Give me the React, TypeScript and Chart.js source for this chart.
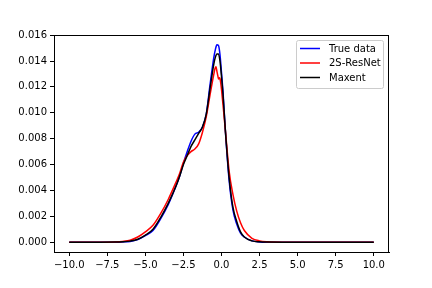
import React, { useEffect, useRef } from "react";
import { Chart, registerables } from "chart.js";

Chart.register(...registerables);

const seriesLabels = ["True data", "2S-ResNet", "Maxent"];
const seriesColors = ["#0000ff", "#ff0000", "#000000"];

const gridX = [-10, -8, -7, -6.5, -6, -5.5, -5, -4.5, -4, -3.5, -3, -2.75, -2.5, -2.25, -2, -1.75, -1.5, -1.25, -1, -0.75, -0.5, -0.4, -0.3, -0.2, -0.1, 0, 0.1, 0.25, 0.5, 0.75, 1, 1.25, 1.5, 2, 2.5, 3, 4, 6, 8, 10];

const trueY = [0, 0, 0, 0.00002, 0.00006, 0.0002, 0.0005, 0.0009, 0.0018, 0.0029, 0.0043, 0.0051, 0.0061, 0.007, 0.0078, 0.00835, 0.0085, 0.0089, 0.0099, 0.0122, 0.0143, 0.0149, 0.01525, 0.0152, 0.0145, 0.0131, 0.0116, 0.0087, 0.0048, 0.0025, 0.0014, 0.0007, 0.0004, 0.0001, 0.00002, 0, 0, 0, 0, 0];

const maxentY = [0, 0, 0.00001, 0.00003, 0.00008, 0.00022, 0.00055, 0.001, 0.0019, 0.003, 0.0043, 0.0051, 0.006, 0.0067, 0.0074, 0.0079, 0.0084, 0.0089, 0.0099, 0.0119, 0.0138, 0.0143, 0.01455, 0.01455, 0.014, 0.0128, 0.0114, 0.0087, 0.005, 0.0027, 0.0016, 0.0008, 0.0004, 0.0001, 0.00003, 0.00001, 0, 0, 0, 0];

const resnetX = [-10, -8, -7, -6.5, -6, -5.5, -5, -4.5, -4, -3.5, -3, -2.75, -2.5, -2.25, -2, -1.75, -1.5, -1.25, -1, -0.75, -0.5, -0.42, -0.36, -0.3, -0.24, -0.19, -0.14, -0.1, -0.05, 0, 0.1, 0.25, 0.5, 0.75, 1, 1.25, 1.5, 2, 2.5, 3, 4, 6, 8, 10];

const resnetY = [0, 0, 0.00002, 0.00006, 0.00015, 0.0004, 0.0008, 0.0013, 0.0022, 0.0033, 0.0046, 0.0053, 0.0062, 0.0067, 0.007, 0.0072, 0.0076, 0.0085, 0.0097, 0.0114, 0.013, 0.01345, 0.01355, 0.0132, 0.01285, 0.0126, 0.0127, 0.01265, 0.0123, 0.0118, 0.0106, 0.0087, 0.0055, 0.0037, 0.0024, 0.0015, 0.0009, 0.0003, 0.0001, 0.00003, 0, 0, 0, 0];

const xTicks = [-10, -7.5, -5, -2.5, 0, 2.5, 5, 7.5, 10];
const yTicks = [0, 0.002, 0.004, 0.006, 0.008, 0.01, 0.012, 0.014, 0.016];

const FONT = "DejaVu Sans";

const boxAndLegend = {
  id: "boxAndLegend",
  afterDatasetsDraw(chart: any) {
    const { ctx, chartArea } = chart;
    const { left, right, top, bottom } = chartArea;
    ctx.save();
    ctx.strokeStyle = "#000";
    ctx.lineWidth = 1;
    ctx.beginPath();
    ctx.moveTo(left, top + 0.5);
    ctx.lineTo(right, top + 0.5);
    ctx.moveTo(Math.round(right) - 0.5, top);
    ctx.lineTo(Math.round(right) - 0.5, bottom);
    ctx.stroke();

    // legend box
    const bx = 296.5, by = 40.5, bw = 87, bh = 48;
    ctx.fillStyle = "rgba(255,255,255,0.8)";
    ctx.strokeStyle = "#cccccc";
    ctx.lineWidth = 1;
    const r = 2;
    ctx.beginPath();
    ctx.moveTo(bx + r, by);
    ctx.lineTo(bx + bw - r, by);
    ctx.arcTo(bx + bw, by, bx + bw, by + r, r);
    ctx.lineTo(bx + bw, by + bh - r);
    ctx.arcTo(bx + bw, by + bh, bx + bw - r, by + bh, r);
    ctx.lineTo(bx + r, by + bh);
    ctx.arcTo(bx, by + bh, bx, by + bh - r, r);
    ctx.lineTo(bx, by + r);
    ctx.arcTo(bx, by, bx + r, by, r);
    ctx.closePath();
    ctx.fill();
    ctx.stroke();

    const rows = [48.5, 63, 77.5];
    ctx.font = `10px "${FONT}"`;
    ctx.textBaseline = "middle";
    ctx.textAlign = "left";
    seriesLabels.forEach((label, i) => {
      ctx.strokeStyle = seriesColors[i];
      ctx.lineWidth = 1.5;
      ctx.beginPath();
      ctx.moveTo(300, rows[i]);
      ctx.lineTo(320, rows[i]);
      ctx.stroke();
      ctx.fillStyle = "#000";
      ctx.fillText(label, 329, rows[i] + 0.5);
    });
    ctx.restore();
  },
};

export default function App() {
  const ref = useRef<HTMLCanvasElement | null>(null);
  useEffect(() => {
    if (!ref.current) return;
    const mk = (xs: number[], ys: number[]) => xs.map((x, i) => ({ x, y: ys[i] }));
    const common = {
      pointRadius: 0,
      borderWidth: 1.5,
      fill: false,
      cubicInterpolationMode: "monotone" as const,
    };
    const chart = new Chart(ref.current, {
      type: "line",
      data: {
        datasets: [
          { ...common, label: seriesLabels[0], data: mk(gridX, trueY), borderColor: seriesColors[0], order: 3 },
          { ...common, label: seriesLabels[1], data: mk(resnetX, resnetY), borderColor: seriesColors[1], order: 2 },
          { ...common, label: seriesLabels[2], data: mk(gridX, maxentY), borderColor: seriesColors[2], order: 1 },
        ],
      },
      options: {
        animation: false,
        responsive: false,
        events: [],
        layout: { padding: { left: 0, top: 35, right: 43, bottom: 0 } },
        plugins: { legend: { display: false }, tooltip: { enabled: false } },
        scales: {
          x: {
            type: "linear",
            min: -11,
            max: 11,
            afterFit: (s: any) => { s.height = 36; },
            afterBuildTicks: (s: any) => { s.ticks = xTicks.map((v) => ({ value: v })); },
            grid: { drawOnChartArea: false, drawTicks: true, tickLength: 4, tickColor: "#000", tickWidth: 1 },
            border: { display: true, color: "#000", width: 1 },
            ticks: {
              color: "#000",
              padding: 3,
              maxRotation: 0,
              autoSkip: false,
              font: { family: FONT, size: 10 },
              callback: (v: any) => Number(v).toFixed(1).replace("-", "\u2212"),
            },
          },
          y: {
            type: "linear",
            min: -0.00076,
            max: 0.01601,
            afterFit: (s: any) => { s.width = 54; },
            afterBuildTicks: (s: any) => { s.ticks = yTicks.map((v) => ({ value: v })); },
            grid: { drawOnChartArea: false, drawTicks: true, tickLength: 4, tickColor: "#000", tickWidth: 1 },
            border: { display: true, color: "#000", width: 1 },
            ticks: {
              color: "#000",
              padding: 3,
              autoSkip: false,
              font: { family: FONT, size: 10 },
              callback: (v: any) => Number(v).toFixed(3),
            },
          },
        },
      },
      plugins: [boxAndLegend],
    });
    return () => chart.destroy();
  }, []);
  return (
    <div style={{ position: "fixed", left: 0, top: 0, width: 432, height: 288, background: "#fff" }}>
      <canvas ref={ref} width={432} height={288} style={{ width: 432, height: 288, display: "block" }} />
    </div>
  );
}
